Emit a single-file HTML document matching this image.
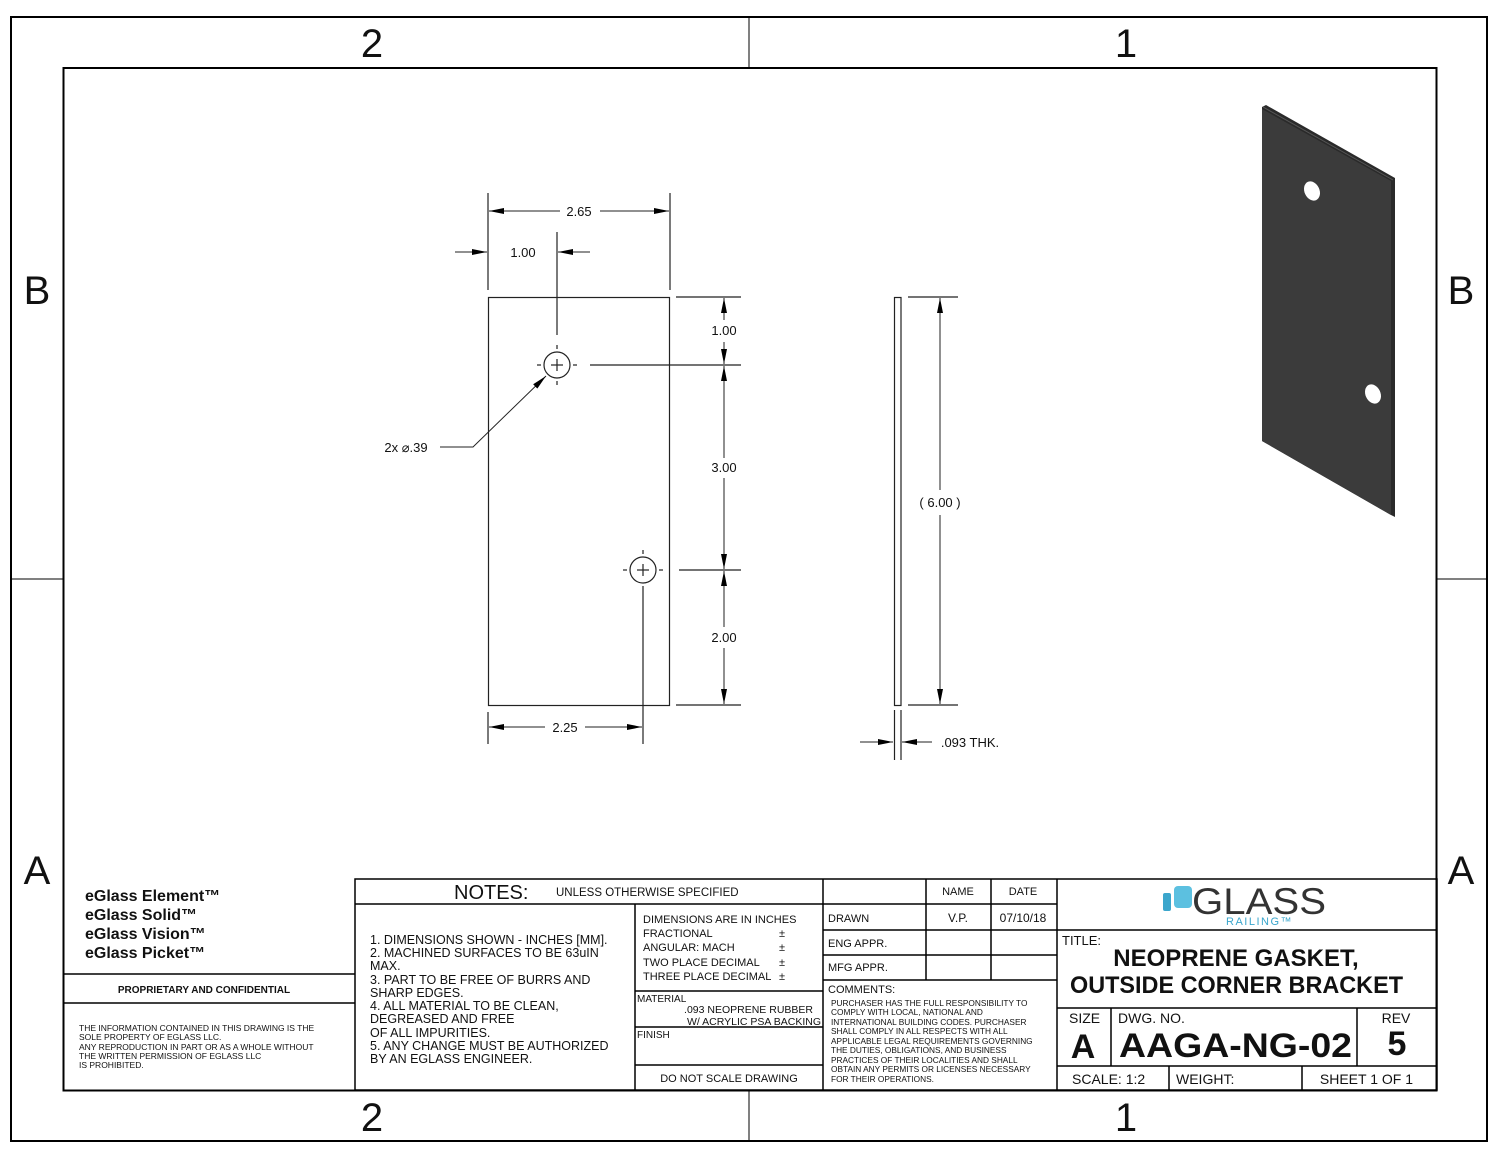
<!DOCTYPE html>
<html><head><meta charset="utf-8"><style>
html,body{margin:0;padding:0;background:#fff}
svg{display:block}
.t{font-family:"Liberation Sans",sans-serif;fill:#111}
</style></head><body>
<svg width="1500" height="1159" viewBox="0 0 1500 1159" xmlns="http://www.w3.org/2000/svg">
<defs>
<marker id="ar" viewBox="0 0 10 4" refX="10" refY="2" markerWidth="16" markerHeight="6" markerUnits="userSpaceOnUse" orient="auto">
<path d="M0,0 L10,2 L0,4z" fill="#000"/></marker>
</defs>
<g fill="none" stroke="#000">
<rect x="11" y="17" width="1476" height="1124" stroke-width="2"/>
<rect x="63.5" y="68" width="1373" height="1022.5" stroke-width="2"/>
<line x1="749" y1="17" x2="749" y2="68" stroke-width="1"/>
<line x1="749" y1="1090" x2="749" y2="1141" stroke-width="1"/>
<line x1="11" y1="579" x2="63" y2="579" stroke-width="1"/>
<line x1="1437" y1="579" x2="1487" y2="579" stroke-width="1"/>
</g>
<g class="t" font-size="40" text-anchor="middle">
<text x="372" y="57">2</text><text x="1126" y="57">1</text>
<text x="372" y="1131">2</text><text x="1126" y="1131">1</text>
<text x="37" y="304">B</text><text x="1461" y="304">B</text>
<text x="37" y="884">A</text><text x="1461" y="884">A</text>
</g>

<!-- front view -->
<g fill="none" stroke="#222" stroke-width="1.2">
<rect x="488.5" y="297.5" width="181" height="408"/>
<circle cx="557" cy="365" r="13"/>
<circle cx="643" cy="570" r="13"/>
<line x1="551" y1="365" x2="563" y2="365"/><line x1="557" y1="359" x2="557" y2="371"/>
<line x1="637" y1="570" x2="649" y2="570"/><line x1="643" y1="564" x2="643" y2="576"/>
<line x1="537" y1="365" x2="541" y2="365"/><line x1="573" y1="365" x2="577" y2="365"/>
<line x1="557" y1="345" x2="557" y2="349"/><line x1="557" y1="381" x2="557" y2="385"/>
<line x1="623" y1="570" x2="627" y2="570"/><line x1="659" y1="570" x2="663" y2="570"/>
<line x1="643" y1="550" x2="643" y2="554"/><line x1="643" y1="586" x2="643" y2="744"/>
<line x1="557" y1="232" x2="557" y2="335"/>
<line x1="590" y1="365" x2="741" y2="365"/>
<line x1="679" y1="570" x2="741" y2="570"/>
<line x1="676" y1="297" x2="741" y2="297"/>
<line x1="676" y1="705" x2="741" y2="705"/>
<line x1="488" y1="193" x2="488" y2="290"/>
<line x1="670" y1="193" x2="670" y2="290"/>
<line x1="488" y1="712" x2="488" y2="744"/>
</g>
<g stroke="#222" stroke-width="1" fill="none">
<line x1="560" y1="211" x2="489" y2="211" marker-end="url(#ar)"/>
<line x1="600" y1="211" x2="669" y2="211" marker-end="url(#ar)"/>
<line x1="455" y1="252" x2="487" y2="252" marker-end="url(#ar)"/>
<line x1="590" y1="252" x2="558" y2="252" marker-end="url(#ar)"/>
<line x1="724" y1="320" x2="724" y2="298" marker-end="url(#ar)"/>
<line x1="724" y1="342" x2="724" y2="364" marker-end="url(#ar)"/>
<line x1="724" y1="458" x2="724" y2="366" marker-end="url(#ar)"/>
<line x1="724" y1="478" x2="724" y2="569" marker-end="url(#ar)"/>
<line x1="724" y1="627" x2="724" y2="571" marker-end="url(#ar)"/>
<line x1="724" y1="648" x2="724" y2="704" marker-end="url(#ar)"/>
<line x1="545" y1="727" x2="489" y2="727" marker-end="url(#ar)"/>
<line x1="585" y1="727" x2="642" y2="727" marker-end="url(#ar)"/>
<polyline points="440,447 473,447 546,376" marker-end="url(#ar)"/>
</g>
<g class="t" font-size="13" text-anchor="middle">
<text x="579" y="216">2.65</text>
<text x="523" y="257">1.00</text>
<text x="724" y="335">1.00</text>
<text x="724" y="472">3.00</text>
<text x="724" y="642">2.00</text>
<text x="565" y="732">2.25</text>
<text x="406" y="452">2x ⌀.39</text>
<text x="940" y="507">( 6.00 )</text>
<text x="970" y="747">.093 THK.</text>
</g>

<!-- side view -->
<g fill="none" stroke="#222" stroke-width="1.2">
<rect x="894.5" y="297.5" width="6.5" height="408"/>
<line x1="908" y1="297" x2="958" y2="297"/>
<line x1="908" y1="705" x2="958" y2="705"/>
<line x1="894.5" y1="710" x2="894.5" y2="760"/>
<line x1="901" y1="710" x2="901" y2="760"/>
</g>
<g stroke="#222" stroke-width="1">
<line x1="940" y1="490" x2="940" y2="298" marker-end="url(#ar)"/>
<line x1="940" y1="515" x2="940" y2="704" marker-end="url(#ar)"/>
<line x1="860" y1="742" x2="893" y2="742" marker-end="url(#ar)"/>
<line x1="932" y1="742" x2="902" y2="742" marker-end="url(#ar)"/>
</g>

<!-- iso -->
<polygon points="1262,107 1266,105 1395,178 1395,517 1391,515 1262,441" fill="#2a2a2a"/>
<polygon points="1262,109 1391,181 1391,515 1262,441" fill="#3b3b3b"/>
<line x1="1263" y1="107" x2="1393" y2="180" stroke="#555" stroke-width="1"/>
<ellipse cx="1312" cy="191" rx="7.5" ry="10" fill="#fff" transform="rotate(-25 1312 191)"/>
<ellipse cx="1373" cy="394" rx="7.5" ry="10" fill="#fff" transform="rotate(-25 1373 394)"/>

<!-- title block -->
<g fill="none" stroke="#000" stroke-width="1.5">
<line x1="64" y1="974" x2="355" y2="974"/>
<line x1="64" y1="1003" x2="355" y2="1003"/>
<rect x="355" y="879" width="1082" height="211"/>
<line x1="355" y1="904" x2="823" y2="904"/>
<line x1="635" y1="904" x2="635" y2="1090"/>
<line x1="635" y1="991" x2="823" y2="991"/>
<line x1="635" y1="1027" x2="823" y2="1027"/>
<line x1="635" y1="1065" x2="823" y2="1065"/>
<line x1="823" y1="879" x2="823" y2="1090"/>
<line x1="823" y1="904" x2="1057" y2="904"/>
<line x1="823" y1="930" x2="1057" y2="930"/>
<line x1="823" y1="955" x2="1057" y2="955"/>
<line x1="823" y1="980" x2="1057" y2="980"/>
<line x1="926" y1="879" x2="926" y2="980"/>
<line x1="991" y1="879" x2="991" y2="980"/>
<line x1="1057" y1="879" x2="1057" y2="1090"/>
<line x1="1057" y1="930" x2="1437" y2="930"/>
<line x1="1057" y1="1008" x2="1437" y2="1008"/>
<line x1="1057" y1="1066" x2="1437" y2="1066"/>
<line x1="1111" y1="1008" x2="1111" y2="1066"/>
<line x1="1357" y1="1008" x2="1357" y2="1066"/>
<line x1="1169" y1="1066" x2="1169" y2="1090"/>
<line x1="1302" y1="1066" x2="1302" y2="1090"/>
</g>
<g class="t" font-size="16" font-weight="bold">
<text x="85" y="901">eGlass Element™</text>
<text x="85" y="920">eGlass Solid™</text>
<text x="85" y="939">eGlass Vision™</text>
<text x="85" y="958">eGlass Picket™</text>
</g>
<text class="t" x="204" y="993" font-size="10" font-weight="bold" text-anchor="middle">PROPRIETARY AND CONFIDENTIAL</text>
<g class="t" font-size="8.5">
<text x="79" y="1031">THE INFORMATION CONTAINED IN THIS DRAWING IS THE</text>
<text x="79" y="1040">SOLE PROPERTY OF EGLASS LLC.</text>
<text x="79" y="1050">ANY REPRODUCTION IN PART OR AS A WHOLE WITHOUT</text>
<text x="79" y="1059">THE WRITTEN PERMISSION OF EGLASS LLC</text>
<text x="79" y="1068">IS PROHIBITED.</text>
</g>
<text class="t" x="454" y="899" font-size="20">NOTES:</text>
<text class="t" x="556" y="896" font-size="11.5">UNLESS OTHERWISE SPECIFIED</text>
<g class="t" font-size="12.5">
<text x="370" y="944">1. DIMENSIONS SHOWN - INCHES [MM].</text>
<text x="370" y="957">2. MACHINED SURFACES TO BE 63uIN</text>
<text x="370" y="970">MAX.</text>
<text x="370" y="984">3. PART TO BE FREE OF BURRS AND</text>
<text x="370" y="997">SHARP EDGES.</text>
<text x="370" y="1010">4. ALL MATERIAL TO BE CLEAN,</text>
<text x="370" y="1023">DEGREASED AND FREE</text>
<text x="370" y="1037">OF ALL IMPURITIES.</text>
<text x="370" y="1050">5. ANY CHANGE MUST BE AUTHORIZED</text>
<text x="370" y="1063">BY AN EGLASS ENGINEER.</text>
</g>
<g class="t" font-size="11">
<text x="643" y="923">DIMENSIONS ARE IN INCHES</text>
<text x="643" y="937">FRACTIONAL</text><text x="779" y="937">±</text>
<text x="643" y="951">ANGULAR: MACH</text><text x="779" y="951">±</text>
<text x="643" y="966">TWO PLACE DECIMAL</text><text x="779" y="966">±</text>
<text x="643" y="980">THREE PLACE DECIMAL</text><text x="779" y="980">±</text>
<text x="637" y="1002" font-size="10">MATERIAL</text>
<text x="813" y="1013" text-anchor="end" font-size="10.5">.093 NEOPRENE RUBBER</text>
<text x="821" y="1025" text-anchor="end" font-size="10.5">W/ ACRYLIC PSA BACKING</text>
<text x="637" y="1038" font-size="10">FINISH</text>
<text x="729" y="1082" text-anchor="middle">DO NOT SCALE DRAWING</text>
<text x="958" y="895" text-anchor="middle">NAME</text>
<text x="1023" y="895" text-anchor="middle">DATE</text>
<text x="828" y="922">DRAWN</text>
<text x="958" y="922" text-anchor="middle" font-size="12">V.P.</text>
<text x="1023" y="922" text-anchor="middle" font-size="12">07/10/18</text>
<text x="828" y="947">ENG APPR.</text>
<text x="828" y="971">MFG APPR.</text>
<text x="828" y="993">COMMENTS:</text>
</g>
<g class="t" font-size="8.3">
<text x="831" y="1006">PURCHASER HAS THE FULL RESPONSIBILITY TO</text>
<text x="831" y="1015">COMPLY WITH LOCAL, NATIONAL AND</text>
<text x="831" y="1025">INTERNATIONAL BUILDING CODES. PURCHASER</text>
<text x="831" y="1034">SHALL COMPLY IN ALL RESPECTS WITH ALL</text>
<text x="831" y="1044">APPLICABLE LEGAL REQUIREMENTS GOVERNING</text>
<text x="831" y="1053">THE DUTIES, OBLIGATIONS, AND BUSINESS</text>
<text x="831" y="1063">PRACTICES OF THEIR LOCALITIES AND SHALL</text>
<text x="831" y="1072">OBTAIN ANY PERMITS OR LICENSES NECESSARY</text>
<text x="831" y="1082">FOR THEIR OPERATIONS.</text>
</g>
<!-- logo -->
<rect x="1163" y="893" width="8" height="18" rx="2" fill="#3ba6cc"/>
<rect x="1174" y="886" width="18" height="22" rx="4" fill="#5cc0e0"/>
<text x="1192" y="914" font-family="Liberation Sans,sans-serif" font-size="37" fill="#333" textLength="134" lengthAdjust="spacingAndGlyphs">GLASS</text>
<text x="1226" y="925" font-family="Liberation Sans,sans-serif" font-size="11" fill="#3aa6cc" letter-spacing="1.5">RAILING™</text>
<g class="t">
<text x="1062" y="945" font-size="13">TITLE:</text>
<text x="1236" y="966" font-size="24" font-weight="bold" text-anchor="middle">NEOPRENE GASKET,</text>
<text x="1070" y="993" font-size="24" font-weight="bold" textLength="333" lengthAdjust="spacingAndGlyphs">OUTSIDE CORNER BRACKET</text>
<text x="1069" y="1023" font-size="14">SIZE</text>
<text x="1083" y="1058" font-size="34" font-weight="bold" text-anchor="middle">A</text>
<text x="1118" y="1023" font-size="14">DWG.  NO.</text>
<text x="1119" y="1057" font-size="34" font-weight="bold" textLength="233" lengthAdjust="spacingAndGlyphs">AAGA-NG-02</text>
<text x="1396" y="1023" font-size="14" text-anchor="middle">REV</text>
<text x="1397" y="1055" font-size="34" font-weight="bold" text-anchor="middle">5</text>
<text x="1072" y="1084" font-size="14">SCALE: 1:2</text>
<text x="1176" y="1084" font-size="14">WEIGHT:</text>
<text x="1413" y="1084" font-size="14" text-anchor="end">SHEET 1 OF 1</text>
</g>
</svg>
</body></html>
